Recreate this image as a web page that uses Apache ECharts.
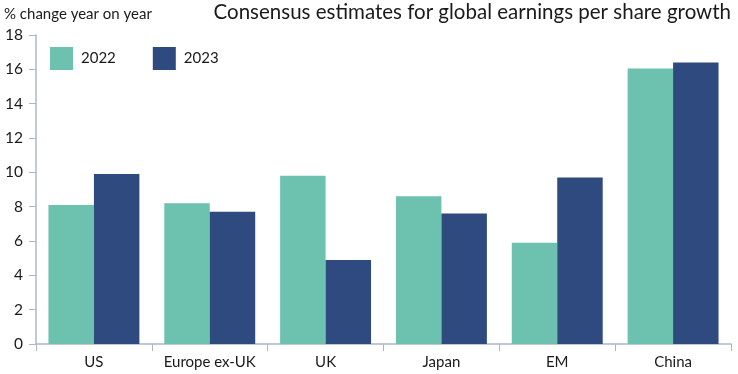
<!DOCTYPE html>
<html><head><meta charset="utf-8">
<script src="https://cdn.jsdelivr.net/npm/echarts@6/dist/echarts.min.js"></script>
<style>html,body{margin:0;padding:0;background:#fff}#c{width:738px;height:374px}</style>
</head><body><div id="c"></div>
<script>
const categories = ["US", "Europe ex-UK", "UK", "Japan", "EM", "China"];
const series2022 = [8.1, 8.2, 9.8, 8.6, 5.9, 16.05];
const series2023 = [9.9, 7.7, 4.9, 7.6, 9.7, 16.4];
const seriesNames = ["2022", "2023"];
const titleText = "Consensus estimates for global earnings per share growth";
const yAxisName = "% change year on year";

const FONT = "Lato";
const chart = echarts.init(document.getElementById('c'), null, {renderer: 'canvas'});
chart.setOption({
  animation: false,
  backgroundColor: '#fff',
  textStyle: {fontFamily: FONT},
  title: {
    text: titleText, right: 7, top: 2, padding: 0,
    textStyle: {fontFamily: FONT, fontSize: 20.5, fontWeight: 'normal', color: '#1a1a1a'}
  },
  legend: {
    left: 50, top: 47, padding: 0, itemWidth: 23, itemHeight: 23, itemGap: 37,
    icon: 'rect',
    textStyle: {fontFamily: FONT, fontSize: 15, color: '#1a1a1a', padding: [0,0,0,3]},
    data: seriesNames
  },
  grid: {left: 36, right: 7, top: 35, bottom: 30},
  xAxis: {
    type: 'category', data: categories,
    axisLine: {lineStyle: {color: '#a9b8c6', width: 1.5}},
    axisTick: {show: true, interval: 0, length: 7, lineStyle: {color: '#a9b8c6'}},
    axisLabel: {interval: 0, fontFamily: FONT, fontSize: 15, color: '#1a1a1a', margin: 11}
  },
  yAxis: {
    type: 'value', min: 0, max: 18, interval: 2,
    name: yAxisName, nameLocation: 'end', nameGap: 13,
    nameTextStyle: {fontFamily: FONT, fontSize: 15, color: '#1a1a1a', align: 'left', padding: [0,0,0,-32]},
    axisLine: {show: true, lineStyle: {color: '#a9b8c6', width: 1.5}},
    axisTick: {show: true, length: 7, lineStyle: {color: '#a9b8c6'}},
    splitLine: {show: false},
    axisLabel: {fontFamily: FONT, fontSize: 15.5, color: '#1a1a1a', margin: 13}
  },
  series: [
    {name: seriesNames[0], type: 'bar', data: series2022, itemStyle: {color: '#6cc2ae'}, barGap: '0%', barCategoryGap: '21.5%'},
    {name: seriesNames[1], type: 'bar', data: series2023, itemStyle: {color: '#2f4a7e'}, barGap: '0%', barCategoryGap: '21.5%'}
  ]
});
</script></body></html>
